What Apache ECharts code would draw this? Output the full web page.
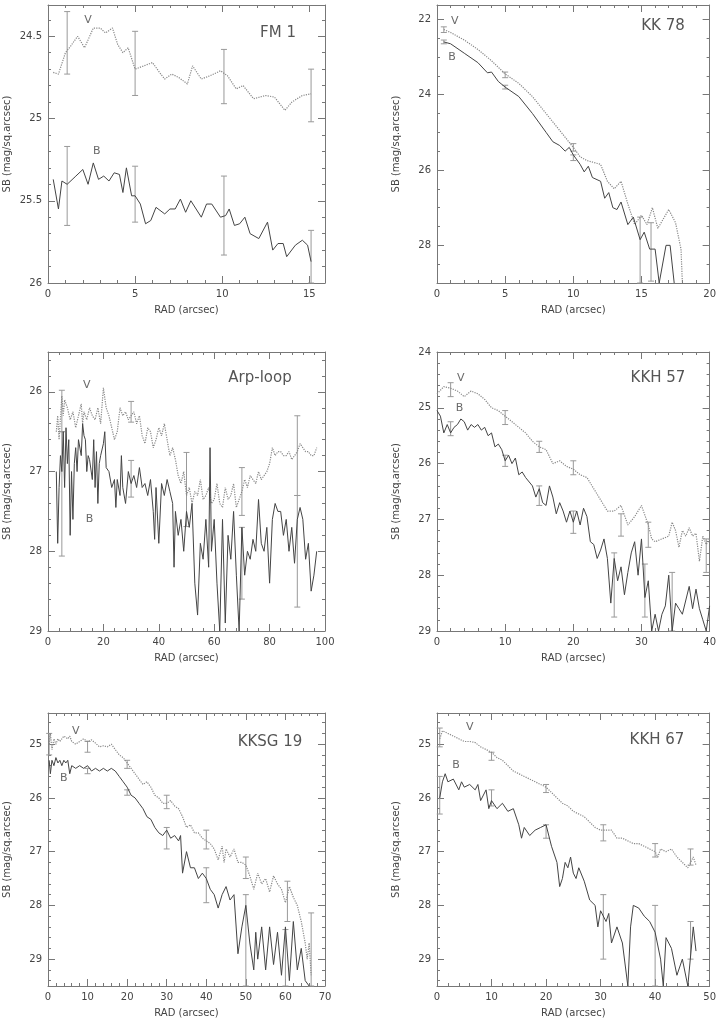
<!doctype html>
<html>
<head>
<meta charset="utf-8">
<script src="https://cdn.jsdelivr.net/npm/echarts@6/dist/echarts.min.js"></script>
</head>
<body style="margin:0;background:#fff">
<div id="draw" style="width:719px;height:1019px"></div>
<script>
// ---- data ----
const titles = ['FM 1', 'KK 78', 'Arp-loop', 'KKH 57', 'KKSG 19', 'KKH 67']

// FM 1
const p1V = [[0.3,24.72],[0.6,24.73],[1.0,24.6],[1.3,24.56],[1.7,24.5],[2.1,24.57],[2.6,24.45],[3.0,24.45],[3.3,24.48],[3.7,24.45],[4.0,24.55],[4.3,24.6],[4.6,24.57],[5.0,24.7],[5.5,24.68],[6.0,24.66],[6.4,24.72],[6.7,24.76],[7.1,24.73],[7.5,24.75],[8.0,24.79],[8.3,24.68],[8.8,24.76],[9.3,24.74],[9.9,24.71],[10.3,24.74],[10.8,24.82],[11.2,24.8],[11.8,24.88],[12.5,24.86],[13.0,24.87],[13.6,24.95],[14.0,24.9],[14.6,24.86],[15.1,24.85]]
const p1B = [[0.3,25.37],[0.6,25.55],[0.8,25.38],[1.1,25.4],[1.6,25.35],[2.0,25.31],[2.3,25.4],[2.6,25.27],[2.9,25.37],[3.2,25.35],[3.5,25.38],[3.8,25.33],[4.1,25.34],[4.3,25.45],[4.5,25.3],[4.8,25.47],[5.0,25.47],[5.3,25.52],[5.6,25.64],[5.9,25.62],[6.2,25.54],[6.7,25.58],[7.0,25.55],[7.3,25.55],[7.6,25.49],[7.9,25.57],[8.2,25.5],[8.8,25.6],[9.1,25.52],[9.4,25.52],[9.9,25.6],[10.2,25.59],[10.4,25.55],[10.7,25.65],[11.0,25.64],[11.3,25.6],[11.6,25.7],[12.1,25.73],[12.6,25.63],[12.9,25.8],[13.2,25.76],[13.5,25.76],[13.7,25.84],[14.2,25.77],[14.6,25.74],[14.9,25.77],[15.1,25.87]]
const p1Err = [[1.1,24.35,24.73],[5.0,24.47,24.86],[10.1,24.58,24.91],[15.1,24.7,25.02],[1.1,25.17,25.65],[5.0,25.29,25.63],[10.1,25.35,25.83],[15.1,25.68,26.0]]

// KK 78
const p2V = [[0.5,22.27],[1,22.35],[2,22.55],[3,22.8],[4,23.1],[5,23.45],[6,23.7],[7,24.05],[8,24.5],[9,24.95],[10,25.4],[10.5,25.65],[11,25.75],[12,25.85],[12.5,26.3],[13,26.5],[13.5,26.3],[14,26.9],[14.5,27.45],[15,27.2],[15.4,27.45],[15.8,27.0],[16.2,27.55],[17,27.05],[17.5,27.4],[17.9,28.1],[18,29]]
const p2B = [[0.5,22.6],[1,22.65],[2,22.9],[3,23.15],[3.7,23.42],[4,23.4],[4.5,23.65],[5,23.8],[6,24.05],[7,24.5],[7.5,24.75],[8,25],[8.5,25.25],[9,25.35],[9.4,25.5],[9.7,25.4],[10,25.6],[10.5,25.85],[10.8,26.05],[11.1,25.9],[11.4,26.2],[12,26.3],[12.3,26.75],[12.6,26.6],[12.9,27.0],[13.2,27.05],[13.5,26.85],[14,27.45],[14.4,27.25],[14.9,27.85],[15.2,27.65],[15.6,28.1],[16,28.1],[16.3,29.0],[16.8,28.0],[17.1,28.0],[17.4,29.0]]
const p2Err = [[0.5,22.2,22.35],[5,23.4,23.55],[10,25.3,25.5],[0.5,22.55,22.65],[5,23.75,23.85],[10,25.6,25.75],[14.9,27.25,29.0],[15.7,27.4,28.95]]

// Arp-loop
const p3V = [[3,26.5],[3.5,26.3],[4,26.6],[5,26.05],[5.5,26.3],[6,26.1],[7,26.2],[8,26.35],[9,26.25],[10,26.45],[11,26.3],[12,26.15],[12.5,26.4],[13,26.25],[14,26.35],[15,26.2],[16,26.3],[17,26.35],[18,26.2],[19,26.4],[20,25.95],[21,26.2],[22,26.3],[23,26.45],[24,26.6],[25,26.5],[26,26.2],[27,26.3],[28,26.25],[29,26.35],[30,26.3],[31,26.25],[32,26.4],[33,26.3],[34,26.55],[35,26.65],[36,26.45],[37,26.5],[38,26.7],[39,26.6],[40,26.45],[41,26.55],[42,26.4],[43,26.6],[44,26.8],[45,26.7],[46,26.85],[47,27.05],[48,27.15],[49,27.0],[50,27.3],[51,27.2],[52,27.4],[53,27.25],[54,27.3],[55,27.1],[56,27.35],[57,27.3],[58,27.2],[59,27.4],[60,27.35],[61,27.15],[62,27.4],[63,27.45],[64,27.2],[65,27.35],[66,27.3],[67,27.15],[68,27.45],[69,27.35],[70,27.25],[71,27.1],[72,27.2],[73,27.05],[74,27.1],[75,27.15],[76,27.0],[77,27.1],[78,27.05],[79,27.0],[80,26.9],[81,26.7],[82,26.8],[83,26.75],[84,26.75],[85,26.8],[86,26.8],[87,26.75],[88,26.85],[89,26.8],[90,26.75],[91,26.65],[92,26.7],[93,26.75],[94,26.75],[95,26.8],[96,26.8],[97,26.7]]
const p3B = [[3,27.0],[3.5,27.9],[4,27.2],[4.5,26.8],[5,27.0],[5.5,26.5],[6,27.2],[6.5,26.45],[7,26.9],[7.5,26.6],[8,27.8],[8.5,27.0],[9,27.6],[9.5,26.9],[10,26.7],[10.5,27.0],[11,26.6],[12,26.8],[12.5,26.4],[13,26.55],[13.5,26.6],[14,27.0],[14.5,26.8],[15,26.85],[16,27.1],[16.5,26.6],[17,27.2],[17.5,26.75],[18,27.4],[18.5,26.9],[19,26.8],[20,26.65],[20.5,26.5],[21,26.95],[22,27.0],[23,27.2],[24,27.1],[24.5,27.45],[25,27.1],[26,27.3],[26.5,26.8],[27,27.2],[28,27.4],[29,27.0],[30,27.15],[31,27.05],[32,27.2],[33,26.95],[34,27.2],[35,27.15],[36,27.3],[37,27.1],[38,27.5],[38.5,27.85],[39,27.2],[40,27.9],[41,27.15],[42,27.3],[43,27.1],[44,27.25],[45,27.4],[45.5,28.2],[46,27.5],[47,27.8],[48,27.6],[49,28.0],[50,27.5],[51,27.7],[52,27.4],[53,28.4],[54,28.8],[55,27.9],[56,28.1],[57,27.6],[58,28.2],[58.5,26.7],[59,28.0],[60,27.6],[61,28.4],[62,29.0],[63,27.6],[64,28.9],[65,27.8],[66,28.1],[67,27.5],[68,28.3],[69,29.0],[70,27.7],[71,28.3],[72,28.0],[73,28.1],[74,27.85],[75,28.0],[76,27.35],[77,27.9],[78,28.0],[79,27.7],[80,28.4],[81,27.6],[82,27.4],[83,27.5],[84,27.5],[85,27.8],[86,27.6],[87,28.0],[88,27.7],[89,28.15],[90,27.6],[91,27.45],[92,27.6],[93,28.1],[94,27.9],[95,28.5],[96,28.3],[97,28.0]]
const p3Err = [[5,25.98,26.5],[5,26.5,28.06],[30,26.12,26.38],[30,26.86,27.32],[50,26.76,27.69],[70,26.95,27.55],[70,27.7,28.6],[90,26.3,27.3],[90,27.3,28.7]]

// KKH 57
const p4V = [[0,24.75],[1,24.62],[2,24.65],[3,24.7],[4,24.8],[5,24.7],[6,24.75],[7,24.85],[8,25.0],[9,25.05],[10,25.15],[11,25.25],[12,25.35],[13,25.45],[14,25.6],[15,25.7],[16,25.75],[17,26.0],[18,25.95],[19,26.05],[20,26.1],[21,26.2],[22,26.25],[23,26.45],[24,26.65],[25,26.85],[26,26.85],[27,26.75],[28,27.1],[29,26.95],[30,26.75],[31,27.1],[31.5,27.35],[32,27.4],[33,27.35],[34,27.3],[34.5,27.05],[35,27.2],[35.5,27.5],[36,27.2],[36.5,27.3],[37,27.15],[37.5,27.3],[38,27.25],[38.5,27.75],[39,27.3],[39.5,27.45],[40,27.35]]
const p4B = [[0,25.05],[0.5,25.15],[1,25.45],[1.5,25.3],[2,25.45],[2.5,25.35],[3,25.3],[3.5,25.2],[4,25.25],[4.5,25.4],[5,25.3],[5.5,25.35],[6,25.3],[6.5,25.4],[7,25.35],[7.5,25.5],[8,25.45],[8.5,25.7],[9,25.65],[9.5,25.75],[10,25.95],[10.5,25.85],[11,26.0],[11.5,25.9],[12,26.2],[12.5,26.15],[13,26.25],[14,26.4],[14.5,26.6],[15,26.45],[15.5,26.7],[16,26.75],[16.5,26.4],[17,26.6],[17.5,26.9],[18,26.7],[18.5,26.85],[19,27.05],[19.5,26.85],[20,27.05],[20.5,26.85],[21,27.1],[21.5,26.8],[22,26.95],[22.5,27.4],[23,27.45],[23.5,27.7],[24,27.55],[24.5,27.35],[25,27.7],[25.5,28.5],[26,27.7],[26.5,28.1],[27,27.85],[27.5,28.35],[28,27.95],[28.5,27.6],[29,27.4],[29.5,28.0],[30,27.35],[30.5,28.4],[31,28.1],[31.5,29.0],[32,28.7],[32.5,29.0],[33,28.7],[33.5,28.55],[34,28.0],[34.5,29.0],[35,28.5],[35.5,28.6],[36,28.7],[37,28.2],[37.5,28.6],[38,28.25],[38.5,28.6],[39,28.8],[39.5,29.0],[40,28.55]]
const p4Err = [[2,24.55,24.8],[10,25.05,25.3],[15,25.6,25.8],[20,25.95,26.2],[27,26.9,27.3],[31,27.05,27.5],[39.5,27.35,27.95],[2,25.25,25.5],[10,25.85,26.05],[15,26.4,26.75],[20,26.85,27.25],[26,27.6,28.75],[30.5,27.8,28.75],[34.5,27.95,29.0]]

// KKSG 19
const p5V = [[0.3,25.0],[0.6,24.8],[1,25.1],[1.5,24.9],[2,25.0],[2.5,24.9],[3,24.95],[4,24.85],[5,24.9],[5.5,24.85],[6,24.95],[7,25.0],[8,24.95],[9,24.9],[10,24.95],[11,24.92],[12,24.98],[13,25.05],[14,25.03],[15,25.05],[16,25.0],[17,25.1],[18,25.2],[19,25.25],[20,25.35],[21,25.45],[22,25.55],[23,25.65],[24,25.75],[25,25.7],[26,25.8],[27,25.95],[28,26.0],[29,26.1],[30,26.1],[31,26.05],[32,26.15],[33,26.2],[34,26.35],[35,26.55],[36,26.5],[37,26.65],[38,26.65],[39,26.75],[40,26.8],[41,26.85],[42,26.95],[43,27.15],[44,26.9],[44.5,27.2],[45,26.95],[46,27.1],[47,26.95],[48,27.2],[49,27.2],[50,27.25],[51,27.45],[52,27.7],[53,27.4],[54,27.6],[55,27.5],[56,27.75],[57,27.45],[58,27.6],[59,27.7],[60,27.95],[61,27.65],[62,27.85],[63,28.0],[64,28.3],[65,28.7],[65.5,29.0],[66,28.7],[66.5,29.3]]
const p5B = [[0.3,25.3],[0.6,25.55],[1,25.3],[1.5,25.4],[2,25.25],[2.5,25.35],[3,25.3],[3.5,25.4],[4,25.3],[4.5,25.35],[5,25.3],[5.5,25.55],[6,25.4],[7,25.45],[8,25.4],[9,25.45],[10,25.4],[11,25.5],[12,25.45],[13,25.5],[14,25.45],[15,25.5],[16,25.45],[17,25.5],[18,25.6],[19,25.7],[20,25.8],[21,25.95],[22,26.0],[23,26.1],[24,26.2],[25,26.35],[26,26.4],[27,26.55],[28,26.65],[29,26.7],[30,26.6],[31,26.75],[32,26.7],[33,26.8],[33.5,26.7],[34,27.4],[35,27.0],[36,27.3],[37,27.3],[38,27.5],[39,27.4],[40,27.5],[41,27.7],[42,27.8],[43,28.05],[44,27.8],[45,27.65],[46,27.9],[47,27.8],[48,28.9],[49,28.4],[50,28.0],[51,28.7],[52,29.2],[52.5,28.5],[53,29.0],[54,28.4],[55,29.2],[56,28.4],[57,29.1],[58,28.5],[59,29.3],[60,28.4],[61,29.4],[62,28.3],[63,29.2],[64,28.8],[65,29.4],[66,29.5]]
const p5Err = [[0.3,24.8,25.2],[10,24.95,25.15],[20,25.3,25.45],[30,25.95,26.2],[40,26.6,26.95],[50,27.1,27.5],[60.5,27.55,28.3],[66.5,28.14,29.5],[10,25.45,25.55],[20,25.85,25.95],[30,26.55,26.95],[40,27.3,27.95],[50,27.8,29.5],[60,28.45,29.5]]

// KKH 67
const p6V = [[0.5,24.9],[1,24.75],[2,24.8],[3,24.85],[4,24.9],[5,24.95],[6,24.95],[7,24.97],[8,25.05],[9,25.1],[10,25.15],[11,25.25],[12,25.3],[13,25.4],[14,25.5],[15,25.55],[16,25.6],[17,25.65],[18,25.7],[19,25.75],[20,25.8],[21,25.9],[22,26.0],[23,26.1],[24,26.15],[25,26.25],[26,26.3],[27,26.35],[28,26.45],[29,26.55],[30,26.6],[31,26.6],[32,26.6],[33,26.75],[34,26.75],[35,26.8],[36,26.85],[37,26.85],[38,26.9],[39,26.95],[40,27.0],[40.5,27.1],[41,26.95],[42,27.0],[43,26.95],[44,27.1],[45,27.2],[46,27.3],[47,27.1],[47.5,27.25]]
const p6B = [[0.5,26.0],[1,25.7],[1.5,25.55],[2,25.7],[3,25.65],[4,25.85],[4.5,25.7],[5,25.8],[6,25.75],[7,25.85],[7.5,25.75],[8,26.05],[9,25.85],[9.5,26.2],[10,26.05],[11,26.2],[12,26.1],[13,26.25],[14,26.2],[15,26.5],[15.5,26.75],[16,26.55],[17,26.7],[18,26.6],[19,26.55],[20,26.5],[21,26.9],[22,27.2],[22.5,27.65],[23,27.5],[23.5,27.2],[24,27.3],[24.5,27.1],[25,27.4],[25.5,27.5],[26,27.3],[27,27.55],[28,27.9],[29,28.0],[29.5,28.4],[30,28.1],[31,28.3],[31.5,28.15],[32,28.7],[33,28.4],[34,28.7],[35,29.5],[35.5,28.4],[36,28.0],[37,28.05],[38,28.2],[39,28.3],[40,28.5],[41,29.0],[41.5,29.5],[42,28.6],[43,28.8],[44,29.3],[45,29.0],[46,29.5],[47,28.4],[47.5,28.85]]
const p6Err = [[0.5,24.7,25.05],[10,25.15,25.3],[20,25.75,25.9],[30.5,26.5,26.8],[40,26.85,27.1],[46.5,26.95,27.25],[0.5,25.6,26.3],[10,25.85,26.15],[20,26.5,26.75],[30.5,27.8,29.0],[40,28.0,29.5],[46.5,28.3,29.0]]

// band labels [x, y, text]
const bandLabels = [
  [[2.3,24.4,'V'],[2.8,25.2,'B']],
  [[1.3,22.05,'V'],[1.1,23.0,'B']],
  [[14,25.92,'V'],[15,27.6,'B']],
  [[3.5,24.46,'V'],[3.3,25.0,'B']],
  [[7,24.76,'V'],[4,25.64,'B']],
  [[6,24.68,'V'],[3.5,25.39,'B']]
]

// tick labels
const xTicks = [[0,5,10,15],[0,5,10,15,20],[0,20,40,60,80,100],[0,10,20,30,40],[0,10,20,30,40,50,60,70],[0,10,20,30,40,50]]
const yTicks = [[24.5,25,25.5,26],[22,24,26,28],[26,27,28,29],[24,25,26,27,28,29],[25,26,27,28,29],[25,26,27,28,29]]
const xMinorStep = [1,1,4,2,2,2]
const yMinorStep = [0.1,0.5,0.2,0.2,0.2,0.2]
const xRange = [[0,15.9],[0,20],[0,100],[0,40],[0,70],[0,50]]
const yRange = [[24.31,26],[21.62,29],[25.5,29],[24,29],[24.42,29.5],[24.42,29.5]]

const vData = [p1V,p2V,p3V,p4V,p5V,p6V]
const bData = [p1B,p2B,p3B,p4B,p5B,p6B]
const errData = [p1Err,p2Err,p3Err,p4Err,p5Err,p6Err]

// ---- layout ----
const grids = [
  {left:48,right:394,top:5,height:278},
  {left:437,right:6,top:5,height:278},
  {left:48,right:394,top:352,height:279},
  {left:437,right:6,top:352,height:279},
  {left:48,right:394,top:713,height:279},
  {left:437,right:6,top:713,height:279}
]
const titlePos = [[278,33],[663,26],[260,378],[658,378],[270,742],[657,740]]

const axisCol = '#777'
const textCol = '#444'
const font = 'DejaVu Sans'

function minorVals(r, step){
  const out = []
  const s = Math.ceil(r[0]/step - 1e-6)
  for (let k = s; k*step <= r[1] + 1e-9; k++) out.push(+(k*step).toFixed(4))
  return out
}

const xAxis = [], yAxis = [], series = []
grids.forEach((g, i) => {
  const xm = minorVals(xRange[i], xMinorStep[i])
  const ym = minorVals(yRange[i], yMinorStep[i])
  ;['bottom','top'].forEach((pos, s) => {
    [true,false].forEach(major => {
      xAxis.push({
        gridIndex:i, type:'value', min:xRange[i][0], max:xRange[i][1], position:pos,
        axisLine:{show:major, onZero:false, lineStyle:{color:axisCol, width:1}},
        axisTick:{show:true, inside:true, length:major?7:3, customValues:major?xTicks[i]:xm, lineStyle:{color:axisCol}},
        axisLabel:{show:major && s===0, customValues:xTicks[i], color:textCol, fontFamily:font, fontSize:10, margin:6},
        splitLine:{show:false},
        name:(major && s===0) ? 'RAD (arcsec)' : '', nameLocation:'middle', nameGap:22,
        nameTextStyle:{color:textCol, fontFamily:font, fontSize:10}
      })
    })
  })
  ;['left','right'].forEach((pos, s) => {
    [true,false].forEach(major => {
      yAxis.push({
        gridIndex:i, type:'value', inverse:true, min:yRange[i][0], max:yRange[i][1], position:pos,
        axisLine:{show:major, onZero:false, lineStyle:{color:axisCol, width:1}},
        axisTick:{show:true, inside:true, length:major?7:3, customValues:major?yTicks[i]:ym, lineStyle:{color:axisCol}},
        axisLabel:{show:major && s===0, customValues:yTicks[i], color:textCol, fontFamily:font, fontSize:10, margin:6},
        splitLine:{show:false},
        name:(major && s===0) ? 'SB (mag/sq.arcsec)' : '', nameLocation:'middle', nameGap:36,
        nameTextStyle:{color:textCol, fontFamily:font, fontSize:10}
      })
    })
  })
  const xi = i*4, yi = i*4
  series.push({type:'line', xAxisIndex:xi, yAxisIndex:yi, data:vData[i], symbol:'none', silent:true,
    lineStyle:{color:'#888', width:1.2, type:'dotted'}})
  series.push({type:'line', xAxisIndex:xi, yAxisIndex:yi, data:bData[i], symbol:'none', silent:true,
    lineStyle:{color:'#444', width:1}})
  series.push({type:'custom', xAxisIndex:xi, yAxisIndex:yi, data:errData[i], silent:true,
    encode:{x:0, y:[1,2]},
    renderItem:(params, api) => {
      const x = api.value(0)
      const a = api.coord([x, api.value(1)]), b = api.coord([x, api.value(2)])
      const st = {stroke:'#999', lineWidth:1}
      return {type:'group', children:[
        {type:'line', shape:{x1:a[0],y1:a[1],x2:b[0],y2:b[1]}, style:st},
        {type:'line', shape:{x1:a[0]-3,y1:a[1],x2:a[0]+3,y2:a[1]}, style:st},
        {type:'line', shape:{x1:b[0]-3,y1:b[1],x2:b[0]+3,y2:b[1]}, style:st}
      ]}
    }})
  series.push({type:'scatter', xAxisIndex:xi, yAxisIndex:yi, data:bandLabels[i], symbolSize:0, silent:true,
    label:{show:true, position:'inside', formatter:p => p.value[2], color:textCol, fontFamily:font, fontSize:11}})
})

const graphic = titles.map((t, i) => ({
  type:'text', x:titlePos[i][0], y:titlePos[i][1],
  style:{text:t, fill:'#555', fontFamily:font, fontSize:15, textAlign:'center', textVerticalAlign:'middle'}
}))

const myChart = echarts.init(document.getElementById('draw'))
myChart.setOption({animation:false, grid:grids, xAxis, yAxis, series, graphic})
</script>
</body>
</html>
